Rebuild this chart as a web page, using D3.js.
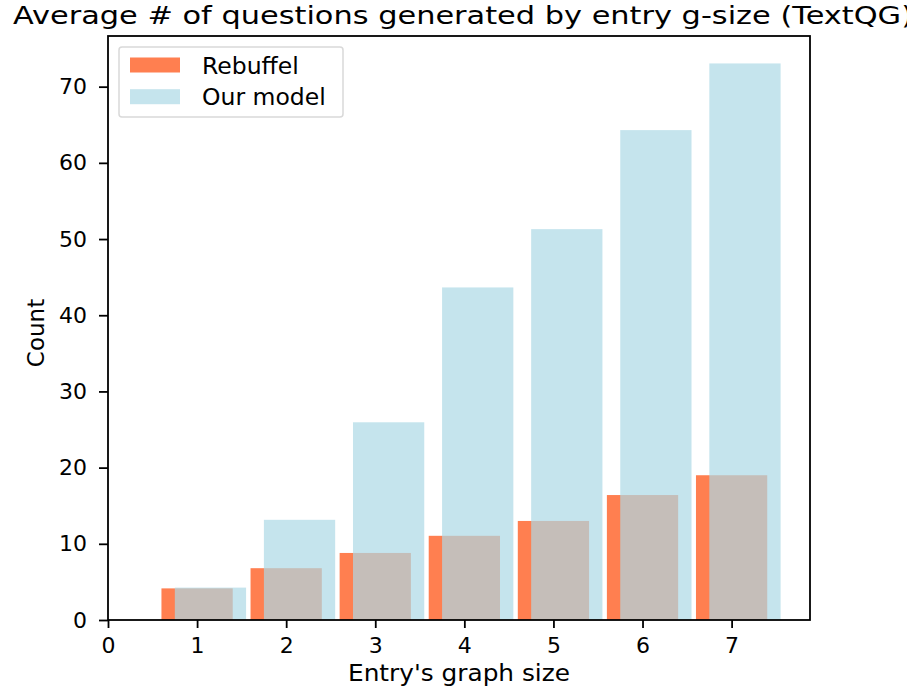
<!DOCTYPE html>
<html>
<head>
<meta charset="utf-8">
<script src="https://cdn.jsdelivr.net/npm/d3@7"></script>
<style>
  html, body { margin: 0; padding: 0; background: #fff; overflow: hidden; }
  svg { display: block; font-family: "DejaVu Sans", sans-serif; }
</style>
</head>
<body>
<svg id="chart" width="907" height="686"></svg>
<script>
// Graph sizes on the x axis
const sizes = [1, 2, 3, 4, 5, 6, 7];
// Average number of generated questions per entry
const rebuffel = [4.15, 6.8, 8.8, 11.05, 13.0, 16.4, 19.0];
const ourModel = [4.25, 13.15, 25.95, 43.65, 51.3, 64.3, 73.05];
const seriesNames = ["Rebuffel", "Our model"];
const xTicks = [0, 1, 2, 3, 4, 5, 6, 7];
const yTicks = [0, 10, 20, 30, 40, 50, 60, 70];

const svg = d3.select("#chart");
const plot = { left: 108, right: 810, top: 36, bottom: 620 };

const x = d3.scaleLinear().domain([0, 7.88]).range([plot.left, plot.right]);
const y = d3.scaleLinear().domain([0, 76.65]).range([plot.bottom, plot.top]);

const barWidth = 0.8;
const shift = 0.15;
const orange = "#ff7f50";
const blue = "#add8e6";

// Rebuffel bars, centred on each size
svg.append("g").selectAll("rect").data(sizes).join("rect")
  .attr("x", (d) => x(d - barWidth / 2))
  .attr("width", (d) => x(d + barWidth / 2) - x(d - barWidth / 2))
  .attr("y", (d, i) => y(rebuffel[i]))
  .attr("height", (d, i) => y(0) - y(rebuffel[i]))
  .attr("fill", orange);

// Our model bars, shifted right and semi-transparent
svg.append("g").selectAll("rect").data(sizes).join("rect")
  .attr("x", (d) => x(d + shift - barWidth / 2))
  .attr("width", (d) => x(d + barWidth / 2) - x(d - barWidth / 2))
  .attr("y", (d, i) => y(ourModel[i]))
  .attr("height", (d, i) => y(0) - y(ourModel[i]))
  .attr("fill", blue)
  .attr("fill-opacity", 0.7);

// Axes
const xAxis = d3.axisBottom(x).tickValues(xTicks).tickFormat(d3.format("d"))
  .tickSize(8).tickPadding(9);
const yAxis = d3.axisLeft(y).tickValues(yTicks).tickFormat(d3.format("d"))
  .tickSize(9).tickPadding(12);

const gx = svg.append("g").attr("transform", `translate(0,${plot.bottom})`).call(xAxis);
const gy = svg.append("g").attr("transform", `translate(${plot.left},0)`).call(yAxis);
[gx, gy].forEach((g) => {
  g.select(".domain").remove();
  g.selectAll(".tick line").attr("stroke", "#000").attr("stroke-width", 1.8);
  g.selectAll(".tick text").attr("fill", "#000")
    .style("font-size", "22px").style("font-family", "DejaVu Sans, sans-serif");
});

// Frame
svg.append("rect")
  .attr("x", plot.left).attr("y", plot.top)
  .attr("width", plot.right - plot.left).attr("height", plot.bottom - plot.top)
  .attr("fill", "none").attr("stroke", "#000").attr("stroke-width", 1.8);

// Title, centred over the plot area
svg.append("text")
  .attr("x", (plot.left + plot.right) / 2 + 4).attr("y", 24)
  .attr("text-anchor", "middle")
  .attr("textLength", 900).attr("lengthAdjust", "spacingAndGlyphs")
  .style("font-size", "24px")
  .attr("fill", "#000")
  .text("Average # of questions generated by entry g-size (TextQG)");

// Axis labels
svg.append("text")
  .attr("x", (plot.left + plot.right) / 2).attr("y", 681)
  .attr("text-anchor", "middle")
  .attr("textLength", 222).attr("lengthAdjust", "spacingAndGlyphs")
  .style("font-size", "23px")
  .text("Entry's graph size");

svg.append("text")
  .attr("transform", "translate(44,333) rotate(-90)")
  .attr("text-anchor", "middle")
  .style("font-size", "23px")
  .text("Count");

// Legend
const legend = svg.append("g");
legend.append("rect")
  .attr("x", 119).attr("y", 47).attr("width", 224).attr("height", 70)
  .attr("rx", 3).attr("fill", "#fff").attr("fill-opacity", 0.8)
  .attr("stroke", "#d9d9d9").attr("stroke-width", 1.5);
const colors = [orange, blue];
const opac = [1, 0.7];
seriesNames.forEach((name, i) => {
  const cy = 65 + i * 31.7;
  legend.append("rect")
    .attr("x", 130).attr("y", cy - 7.5).attr("width", 50).attr("height", 15)
    .attr("fill", colors[i]).attr("fill-opacity", opac[i]);
  legend.append("text")
    .attr("x", 202).attr("y", cy + 8.5)
    .style("font-size", "23.5px")
    .text(name);
});
</script>
</body>
</html>
